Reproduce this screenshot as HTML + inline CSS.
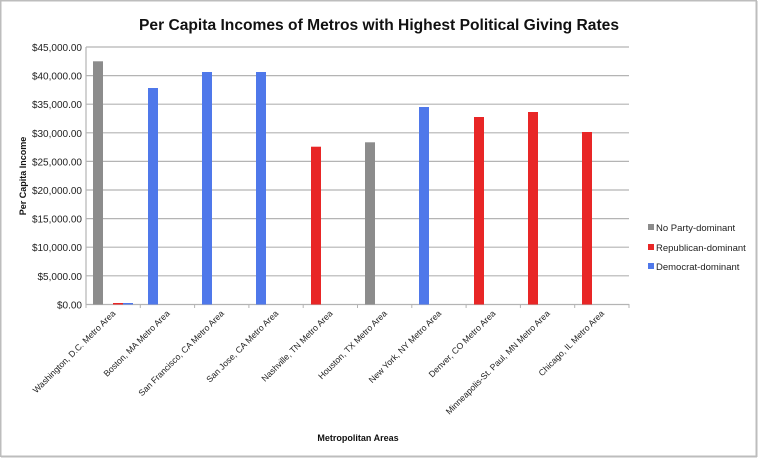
<!DOCTYPE html>
<html><head><meta charset="utf-8"><style>
html,body{margin:0;padding:0;background:#fff}
svg{display:block}
text{font-family:"Liberation Sans",sans-serif}
</style></head><body>
<svg width="758" height="458" viewBox="0 0 758 458" xmlns="http://www.w3.org/2000/svg">
<rect x="0" y="0" width="758" height="458" fill="#fff"/>
<rect x="0.75" y="0.75" width="755.5" height="455.5" fill="none" stroke="#bdbdbd" stroke-width="1.5"/>
<line x1="756.5" y1="1" x2="756.5" y2="457" stroke="#bdbdbd" stroke-width="2"/>
<line x1="1" y1="456.5" x2="757" y2="456.5" stroke="#bdbdbd" stroke-width="2"/>
<text x="379" y="30" text-anchor="middle" font-size="16" font-weight="bold" fill="#111" textLength="480" lengthAdjust="spacingAndGlyphs">Per Capita Incomes of Metros with Highest Political Giving Rates</text>
<g stroke="#b4b4b4" stroke-width="1.2">
<line x1="86" y1="47" x2="629" y2="47"/>
<line x1="86" y1="75.6" x2="629" y2="75.6"/>
<line x1="86" y1="104.2" x2="629" y2="104.2"/>
<line x1="86" y1="132.8" x2="629" y2="132.8"/>
<line x1="86" y1="161.4" x2="629" y2="161.4"/>
<line x1="86" y1="190" x2="629" y2="190"/>
<line x1="86" y1="218.6" x2="629" y2="218.6"/>
<line x1="86" y1="247.2" x2="629" y2="247.2"/>
<line x1="86" y1="275.8" x2="629" y2="275.8"/>
<line x1="86" y1="304.5" x2="629" y2="304.5"/>
<line x1="86" y1="47" x2="86" y2="304.5"/>
</g>
<g stroke="#b4b4b4" stroke-width="1">
<line x1="86" y1="304" x2="86" y2="308"/><line x1="140.3" y1="304" x2="140.3" y2="308"/><line x1="194.6" y1="304" x2="194.6" y2="308"/><line x1="248.9" y1="304" x2="248.9" y2="308"/><line x1="303.2" y1="304" x2="303.2" y2="308"/><line x1="357.5" y1="304" x2="357.5" y2="308"/><line x1="411.8" y1="304" x2="411.8" y2="308"/><line x1="466.1" y1="304" x2="466.1" y2="308"/><line x1="520.4" y1="304" x2="520.4" y2="308"/><line x1="574.7" y1="304" x2="574.7" y2="308"/><line x1="629" y1="304" x2="629" y2="308"/>
</g>
<g font-size="10" fill="#222" text-anchor="end">
<text x="82" y="51">$45,000.00</text>
<text x="82" y="79.6">$40,000.00</text>
<text x="82" y="108.2">$35,000.00</text>
<text x="82" y="136.8">$30,000.00</text>
<text x="82" y="165.4">$25,000.00</text>
<text x="82" y="194">$20,000.00</text>
<text x="82" y="222.6">$15,000.00</text>
<text x="82" y="251.2">$10,000.00</text>
<text x="82" y="279.8">$5,000.00</text>
<text x="82" y="308.5">$0.00</text>
</g>
<text transform="translate(26,176) rotate(-90)" text-anchor="middle" font-size="9" font-weight="bold" fill="#111">Per Capita Income</text>
<g>
<rect x="93" y="61.3" width="10" height="243.2" fill="#8c8c8c"/>
<rect x="113" y="303" width="10" height="1.5" fill="#e82626"/>
<rect x="123" y="303" width="10" height="1.5" fill="#4f78ea"/>
<rect x="148" y="88" width="10" height="216.5" fill="#4f78ea"/>
<rect x="202" y="72" width="10" height="232.5" fill="#4f78ea"/>
<rect x="256" y="72" width="10" height="232.5" fill="#4f78ea"/>
<rect x="311" y="146.7" width="10" height="157.8" fill="#e82626"/>
<rect x="365" y="142.3" width="10" height="162.2" fill="#8c8c8c"/>
<rect x="419" y="107" width="10" height="197.5" fill="#4f78ea"/>
<rect x="474" y="117" width="10" height="187.5" fill="#e82626"/>
<rect x="528" y="112" width="10" height="192.5" fill="#e82626"/>
<rect x="582" y="132" width="10" height="172.5" fill="#e82626"/>
</g>
<g font-size="8.7" fill="#222" text-anchor="end">
<text transform="translate(116,314) rotate(-45)">Washington, D.C. Metro Area</text>
<text transform="translate(170.3,314) rotate(-45)">Boston, MA Metro Area</text>
<text transform="translate(224.6,314) rotate(-45)">San Francisco, CA Metro Area</text>
<text transform="translate(278.9,314) rotate(-45)">San Jose, CA Metro Area</text>
<text transform="translate(333.2,314) rotate(-45)">Nashville, TN Metro Area</text>
<text transform="translate(387.5,314) rotate(-45)">Houston, TX Metro Area</text>
<text transform="translate(441.8,314) rotate(-45)">New York, NY Metro Area</text>
<text transform="translate(496.1,314) rotate(-45)">Denver, CO Metro Area</text>
<text transform="translate(550.4,314) rotate(-45)">Minneapolis-St. Paul, MN Metro Area</text>
<text transform="translate(604.7,314) rotate(-45)">Chicago, IL Metro Area</text>
</g>
<text x="358" y="441" text-anchor="middle" font-size="9" font-weight="bold" fill="#111">Metropolitan Areas</text>
<rect x="648" y="224" width="6" height="6" fill="#8c8c8c"/>
<rect x="648" y="244" width="6" height="6" fill="#e82626"/>
<rect x="648" y="263" width="6" height="6" fill="#4f78ea"/>
<g font-size="9.5" fill="#222">
<text x="656" y="231">No Party-dominant</text>
<text x="656" y="251">Republican-dominant</text>
<text x="656" y="270">Democrat-dominant</text>
</g>
</svg>
</body></html>
